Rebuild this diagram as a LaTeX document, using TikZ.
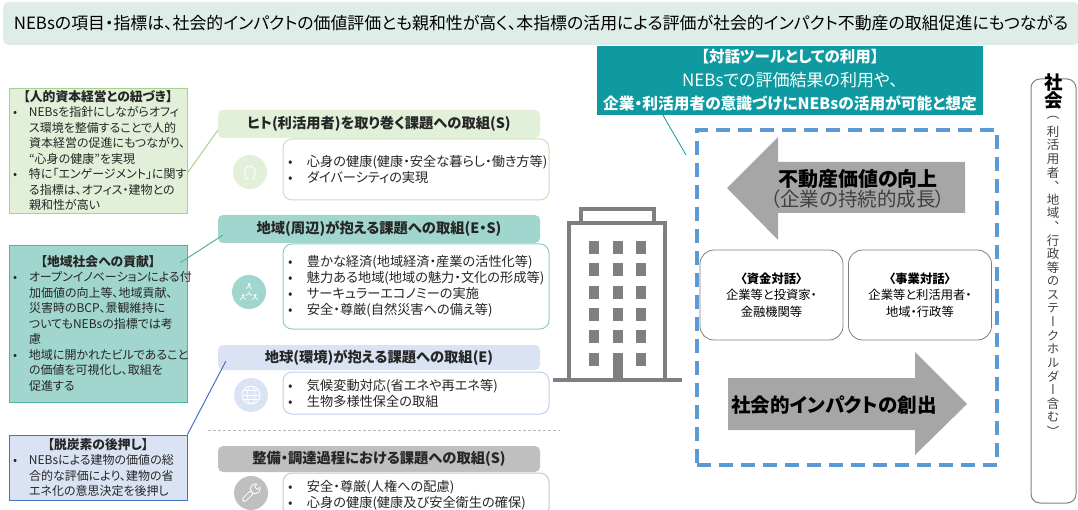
\documentclass[tikz,border=0pt]{standalone}
\usepackage{fontspec}
\setmainfont{Noto Sans CJK JP}[RawFeature=+palt]
\newfontfamily\tatefont{Noto Sans CJK JP}[RawFeature=+vert]

\setlength\parindent{0pt}
\setlength\parskip{0pt}

\definecolor{leadfill}{RGB}{222,237,231}
\definecolor{hitofill}{RGB}{226,240,217}
\definecolor{hitoline}{RGB}{169,209,142}
\definecolor{hitoedge}{RGB}{200,225,184}
\definecolor{chiikifill}{RGB}{160,214,205}
\definecolor{chiikiline}{RGB}{78,180,164}
\definecolor{chiikiedge}{RGB}{140,205,195}
\definecolor{chikyufill}{RGB}{218,227,243}
\definecolor{chikyuline}{RGB}{68,114,196}
\definecolor{chikyuedge}{RGB}{192,207,236}
\definecolor{seibifill}{RGB}{191,191,191}
\definecolor{seibiedge}{RGB}{200,200,200}
\definecolor{tealbox}{RGB}{14,154,160}
\definecolor{frameblue}{RGB}{91,155,213}
\definecolor{arrowgray}{RGB}{166,166,166}
\definecolor{bldggray}{RGB}{127,127,127}

\newcommand\notefont{\fontsize{12}{15.5}\selectfont}
\newcommand\itemfont{\fontsize{13.2}{16}\selectfont}
\newcommand\headfont{\fontsize{14.3}{16}\selectfont\bfseries}
\newcommand\itm[1][16pt]{\makebox[#1][l]{•}}
\newcommand\indt{\hspace*{16pt}}
\newcommand\ttl[1]{{\centering\fontsize{12.8}{15.5}\selectfont\bfseries #1\par}}

\begin{document}
\begin{tikzpicture}[x=1pt,y=-1pt,
  notebox/.style={draw=#1line,fill=#1fill,line width=0.8pt,text width=170pt,inner xsep=4pt,inner ysep=0pt,align=left,font=\notefont,text=black!85},
  taskhead/.style={fill=#1,rounded corners=5pt,minimum width=322pt,inner sep=0pt,font=\headfont,text=black!85},
  taskitems/.style={draw=#1,fill=white,rounded corners=9pt,line width=1pt,text width=256pt,inner xsep=5pt,inner ysep=0pt,align=left,font=\itemfont,text=black!85},
  taskicon/.style={circle,fill=#1,minimum size=34pt,inner sep=0pt},
  talkbox/.style={draw=bldggray,line width=0.8pt,rounded corners=14pt,minimum width=143pt,minimum height=90pt,align=center,font=\fontsize{12.3}{16.5}\selectfont},
  tatechar/.style={font=\tatefont\fontsize{12.5}{14}\selectfont,inner sep=0pt,text=black!75},
  bldg/.style={draw=bldggray,line width=3.2pt}]
\useasboundingbox (0,0) rectangle (1078,510);

% banner
\node[fill=leadfill,rounded corners=6pt,minimum width=1076pt,minimum height=43pt,font=\fontsize{16.9}{18}\selectfont] (lead) at (541,23.5) {NEBsの項目・指標は、社会的インパクトの価値評価とも親和性が高く、本指標の活用による評価が社会的インパクト不動産の取組促進にもつながる};

% notes on the left
\node[notebox=hito,minimum height=125pt] (capital) at (98,150.5) {\ttl{【人的資本経営との紐づき】}\itm NEBsを指針にしながらオフィ\\\indt ス環境を整備することで人的\\\indt 資本経営の促進にもつながり、\\\indt “心身の健康”を実現\\\itm 特に「エンゲージメント」に関す\\\indt る指標は、オフィス・建物との\\\indt 親和性が高い};
\node[notebox=chiiki,minimum height=157pt] (community) at (98,323.5) {\ttl{【地域社会への貢献】}\itm オープンイノベーションによる付\\\indt 加価値の向上等、地域貢献、\\\indt 災害時のBCP、景観維持に\\\indt ついてもNEBsの指標では考\\\indt 慮\\\itm 地域に開かれたビルであること\\\indt の価値を可視化し、取組を\\\indt 促進する};
\node[notebox=chikyu,minimum height=65pt] (decarb) at (98,467.5) {\ttl{【脱炭素の後押し】}\itm NEBsによる建物の価値の総\\\indt 合的な評価により、建物の省\\\indt エネ化の意思決定を後押し};

% task headers and items
\node[taskhead=hitofill,minimum height=28pt] (hitohead) at (379,124) {ヒト(利活用者)を取り巻く課題への取組(S)};
\node[taskitems=hitoedge,minimum height=61pt] (hitoitems) at (416,169.5) {\itm[19pt]心身の健康(健康・安全な暮らし・働き方等)\\\itm[19pt]ダイバーシティの実現};
\node[taskicon=hitofill] (hitoicon) at (250,172) {};

\node[taskhead=chiikifill,minimum height=28pt] (chiikihead) at (379,229) {地域(周辺)が抱える課題への取組(E・S)};
\node[taskitems=chiikiedge,minimum height=85pt] (chiikiitems) at (416,286.5) {\itm[19pt]豊かな経済(地域経済・産業の活性化等)\\\itm[19pt]魅力ある地域(地域の魅力・文化の形成等)\\\itm[19pt]サーキュラーエコノミーの実施\\\itm[19pt]安全・尊厳(自然災害への備え等)};
\node[taskicon=chiikifill] (chiikiicon) at (249,292) {};

\node[taskhead=chikyufill,minimum height=25pt] (chikyuhead) at (379,357.5) {地球(環境)が抱える課題への取組(E)};
\node[taskitems=chikyuedge,minimum height=42pt] (chikyuitems) at (416,393) {\itm[19pt]気候変動対応(省エネや再エネ等)\\\itm[19pt]生物多様性保全の取組};
\node[taskicon=chikyufill] (chikyuicon) at (251,395) {};

\draw[gray!55,line width=1pt,dash pattern=on 3pt off 2pt] (208,430) -- (560,430);

\node[taskhead=seibifill,minimum height=26pt] (seibihead) at (379,459) {整備・調達過程における課題への取組(S)};
\node[taskitems=seibiedge,minimum height=44pt] (seibiitems) at (416,495) {\itm[19pt]安全・尊厳(人権への配慮)\\\itm[19pt]心身の健康(健康及び安全衛生の確保)};
\node[taskicon=seibifill] (seibiicon) at (251,493) {};

% icons
\begin{scope}[shift={(250,172)},white,line width=0.8pt]
  \draw (-6,7) -- (-2.5,7) .. controls (-7,3) and (-6,-6) .. (0,-6) .. controls (6,-6) and (7,3) .. (2.5,7) -- (6,7);
\end{scope}
\begin{scope}[shift={(249,292)},white,line width=0.7pt]
  \foreach \x/\y in {0/-5,-6/6,6/6} {
    \fill (\x,\y-2.5) circle (1.5);
    \draw (\x-2.5,\y+2) arc[start angle=180,end angle=360,radius=2.5];
  }
  \draw (0,-1) -- (0,1.5) -- (-3,3.5) (0,1.5) -- (3,3.5);
\end{scope}
\begin{scope}[shift={(251,395)},white,line width=0.8pt]
  \draw (0,0) circle (9) (0,0) ellipse [x radius=4,y radius=9];
  \draw (-9,0) -- (9,0) (-7.8,-4.5) -- (7.8,-4.5) (-7.8,4.5) -- (7.8,4.5);
\end{scope}
\begin{scope}[shift={(251,493)},rotate=45,white,line width=0.8pt]
  \draw[rounded corners=1.5pt] (-11,-2) rectangle (1.5,2);
  \draw (6,0) circle (5);
  \fill[seibifill] (6,-2) rectangle (12,2);
  \draw (11,-2) -- (7,-2) -- (7,2) -- (11,2);
\end{scope}

% links from the notes
\draw[hitoline,line width=1pt] ([yshift=-22.5pt]capital.east) -- ([yshift=8pt]hitohead.south west);
\draw[chiikiline,line width=1pt] ([xshift=-7pt,yshift=-18pt]community.north east) -- ([xshift=5pt,yshift=8pt]chiikihead.south west);
\draw[chikyuline,line width=1pt] (decarb.north east) -- ([xshift=8pt,yshift=9pt]chikyuhead.south west);

% building
\draw[bldg] (581,223) -- (581,209) -- (654,209) -- (654,223);
\draw[bldg] (569,380) -- (569,223) -- (665,223) -- (665,380);
\draw[bldg] (553,380) -- (682,380);
\foreach \y in {248,270,292.5,315,336.5} {
  \foreach \x in {594,618,641}
    \fill[bldggray] (\x-5,\y-6.5) rectangle ++(10,13);
}
\foreach \x in {594,641}
  \fill[bldggray] (\x-5,352.5) rectangle ++(10,13);
\fill[bldggray] (613,353) rectangle (623,380);

% dialogue frame
\node[fill=tealbox,minimum width=386pt,minimum height=69pt,inner sep=0pt,text=white,align=center,font=\fontsize{17}{23.5}\selectfont] (tool) at (790,80.5) {{\fontsize{15.5}{23.5}\selectfont\bfseries 【対話ツールとしての利用】}\\NEBsでの評価結果の利用や、\\{\fontsize{15.7}{23.5}\selectfont\bfseries 企業・利活用者の意識づけにNEBsの活用が可能と想定}};
\coordinate (pointer) at (686,155);
\draw[tealbox,line width=0.8pt] ([xshift=-127pt]tool.south) -- (pointer);

\node[draw=frameblue,line width=4.5pt,dash pattern=on 14pt off 8pt,minimum width=300pt,minimum height=335pt] (frame) at (847,297.5) {};

\fill[arrowgray] (727,188) -- (778,137) -- (778,162) -- (965,162) -- (965,213) -- (778,213) -- (778,240) -- cycle;
\node[align=center] (value) at (858,189) {{\fontsize{20}{25}\selectfont\bfseries 不動産価値の向上}\\{\fontsize{19.5}{25}\selectfont\color{black!75}（企業の持続的成長）}};

\node[talkbox] (fund) at (771.5,295) {{\bfseries 〈資金対話〉}\\企業等と投資家・\\金融機関等};
\node[talkbox] (biz) at (920,295) {{\bfseries 〈事業対話〉}\\企業等と利活用者・\\地域・行政等};

\fill[arrowgray] (728,378) -- (915,378) -- (915,352) -- (967,404) -- (915,455) -- (915,430) -- (728,430) -- cycle;
\node[font=\fontsize{19.5}{22}\selectfont\bfseries] (impact) at (834,405) {社会的インパクトの創出};

% society column
\node[draw=bldggray,line width=1pt,rounded corners=9pt,minimum width=45pt,minimum height=424pt] (society) at (1053.5,291) {};
\node[font=\fontsize{18.5}{19}\selectfont\bfseries,inner sep=0pt] (sha) at (1054,82) {社};
\node[font=\fontsize{18.5}{19}\selectfont\bfseries,inner sep=0pt] (kai) at (1054,100) {会};
\foreach \c [count=\i from 0] in {（,利,活,用,者,、,地,域,、,行,政,等,の,ス,テ,ー,ク,ホ,ル,ダ,ー,含,む,）}
  \node[tatechar] (tate\i) at (1053,{118+13.6*\i}) {\c};
\end{tikzpicture}
\end{document}
